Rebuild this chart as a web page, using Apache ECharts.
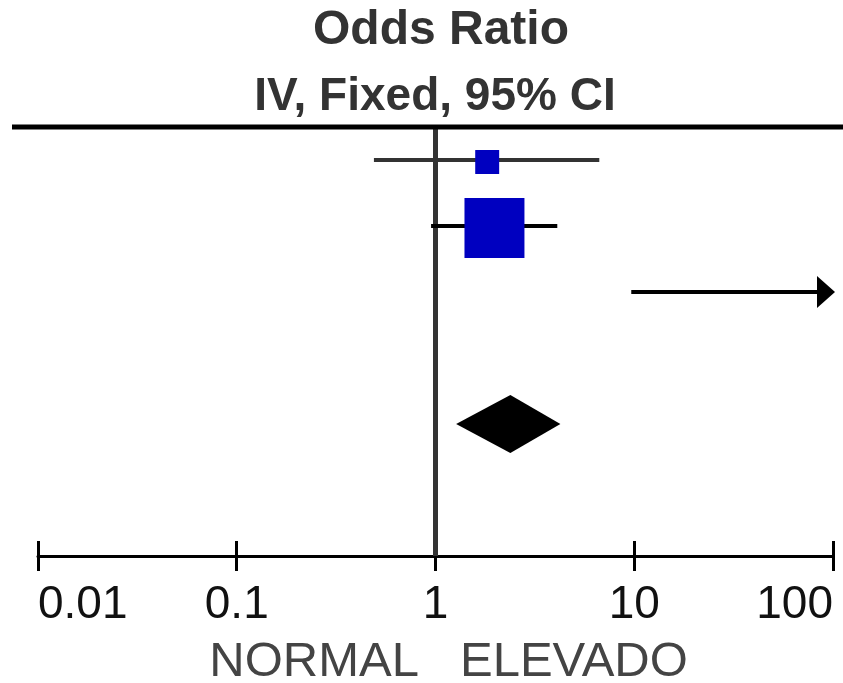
<!DOCTYPE html>
<html>
<head>
<meta charset="utf-8">
<script src="https://cdn.jsdelivr.net/npm/echarts@6/dist/echarts.min.js"></script>
<style>
html,body{margin:0;padding:0;background:#fff;}
#chart{width:843px;height:683px;}
</style>
</head>
<body>
<div id="chart"></div>
<script>
// ---- data ----
var studyNames = ['Study 1', 'Study 2', 'Study 3'];
var studyOR    = [1.82, 1.98, 150];   // study 3 estimate lies off the scale (square not drawn)
var studyLower = [0.49, 0.95, 9.66];
var studyUpper = [6.67, 4.10, 900];   // study 3 upper limit beyond 100 (arrow)
var studyWeight = [13.5, 84.6, 1.9];  // %
var studyRow   = [0.5, 1.5, 2.5];
var pooledOR = 2.38, pooledLower = 1.27, pooledUpper = 4.25, pooledRow = 4.5;
var nullValue = 1;
var tickValues = [0.01, 0.1, 1, 10, 100];
var tickLabels = ['0.01', '0.1', '1', '10', '100'];
var favoursLeft = 'NORMAL', favoursRight = 'ELEVADO';
var titleLine1 = 'Odds Ratio', titleLine2 = 'IV, Fixed, 95% CI';

var AX_MIN = 0.01, AX_MAX = 100, ROW_MAX = 6.5;
var ciColors = ['#333333', '#000000', '#000000'];
var FONT = '"Liberation Sans", Arial, sans-serif';

var studyData = studyNames.map(function (n, i) {
  return [studyLower[i], studyUpper[i], studyOR[i], studyRow[i], studyWeight[i], i];
});

var chart = echarts.init(document.getElementById('chart'), null, {renderer: 'canvas'});

function renderStudy(params, api) {
  var lo = api.value(0), hi = api.value(1), est = api.value(2), row = api.value(3), w = api.value(4), idx = api.value(5);
  var y = api.coord([1, row])[1];
  var xMaxPx = api.coord([AX_MAX, row])[0];
  var xl = api.coord([Math.max(lo, AX_MIN), row])[0];
  var xh = api.coord([Math.min(hi, AX_MAX), row])[0];
  var children = [];
  var color = ciColors[idx];
  var lineEnd = xh;
  if (hi > AX_MAX) {
    var tip = xMaxPx + 2;
    lineEnd = tip - 18;
    children.push({type: 'polygon', shape: {points: [[lineEnd, y - 16], [tip, y], [lineEnd, y + 16]]}, style: {fill: '#000'}});
  }
  children.push({type: 'line', shape: {x1: xl, y1: y, x2: lineEnd, y2: y}, style: {stroke: color, lineWidth: 4}});
  if (est >= AX_MIN && est <= AX_MAX) {
    var s = 6.52 * Math.sqrt(w);
    var cx = api.coord([est, row])[0];
    children.push({type: 'rect', shape: {x: cx - s / 2, y: y + 2 - s / 2, width: s, height: s}, style: {fill: '#0000C0'}});
  }
  return {type: 'group', children: children};
}

function renderPooled(params, api) {
  var row = api.value(3);
  var pl = api.coord([api.value(0), row]);
  var ph = api.coord([api.value(1), row]);
  var pc = api.coord([api.value(2), row]);
  var h = 29;
  return {type: 'polygon', shape: {points: [[pl[0], pl[1]], [pc[0], pc[1] - h], [ph[0], ph[1]], [pc[0], pc[1] + h]]}, style: {fill: '#000'}};
}

var gridBox = {left: 38, right: 10, top: 127, bottom: 127, containLabel: false};

var option = {
  animation: false,
  backgroundColor: '#fff',
  grid: [Object.assign({}, gridBox), Object.assign({}, gridBox)],
  xAxis: [{
    gridIndex: 0, type: 'log', logBase: 10, min: AX_MIN, max: AX_MAX, position: 'bottom',
    axisLine: {show: true, onZero: false, lineStyle: {color: '#000', width: 3}},
    axisTick: {show: true, inside: false, length: 15, lineStyle: {color: '#000', width: 3}},
    splitLine: {show: false},
    axisLabel: {
      show: true, margin: 26, color: '#111', fontSize: 46, fontFamily: FONT,
      alignMinLabel: 'left', alignMaxLabel: 'right',
      formatter: function (v) {
        for (var i = 0; i < tickValues.length; i++) {
          if (Math.abs(Math.log10(v) - Math.log10(tickValues[i])) < 1e-6) return tickLabels[i];
        }
        return '';
      }
    }
  }, {
    gridIndex: 1, type: 'log', logBase: 10, min: AX_MIN, max: AX_MAX, position: 'bottom',
    axisLine: {show: false, onZero: false},
    axisTick: {show: true, inside: true, length: 15, lineStyle: {color: '#000', width: 3}},
    splitLine: {show: false},
    axisLabel: {show: false}
  }],
  yAxis: [
    {gridIndex: 0, type: 'value', min: 0, max: ROW_MAX, inverse: true, show: false},
    {gridIndex: 1, type: 'value', min: 0, max: ROW_MAX, inverse: true, show: false}
  ],
  graphic: [
    {type: 'line', z: 10, shape: {x1: 12, y1: 127, x2: 843, y2: 127}, style: {stroke: '#000', lineWidth: 5}},
    {type: 'text', x: 441, y: 31, style: {text: titleLine1, font: 'bold 48px ' + FONT, fill: '#333', align: 'center', verticalAlign: 'middle'}},
    {type: 'text', x: 435, y: 97, style: {text: titleLine2, font: 'bold 46px ' + FONT, fill: '#333', align: 'center', verticalAlign: 'middle'}},
    {type: 'text', x: 419, y: 662, style: {text: favoursLeft, font: '49px ' + FONT, fill: '#444', align: 'right', verticalAlign: 'middle'}},
    {type: 'text', x: 460, y: 662, style: {text: favoursRight, font: '49px ' + FONT, fill: '#444', align: 'left', verticalAlign: 'middle'}}
  ],
  series: [
    {
      type: 'line', xAxisIndex: 0, yAxisIndex: 0, data: [[nullValue, 0], [nullValue, ROW_MAX]],
      symbol: 'none', lineStyle: {color: '#333', width: 5}, z: 1, silent: true
    },
    {
      type: 'custom', xAxisIndex: 0, yAxisIndex: 0, renderItem: renderStudy, data: studyData, z: 3, clip: false,
      encode: {x: [0, 1, 2], y: 3}
    },
    {
      type: 'custom', xAxisIndex: 0, yAxisIndex: 0, renderItem: renderPooled,
      data: [[pooledLower, pooledUpper, pooledOR, pooledRow]], z: 3,
      encode: {x: [0, 1, 2], y: 3}
    }
  ]
};
chart.setOption(option);
</script>
</body>
</html>
